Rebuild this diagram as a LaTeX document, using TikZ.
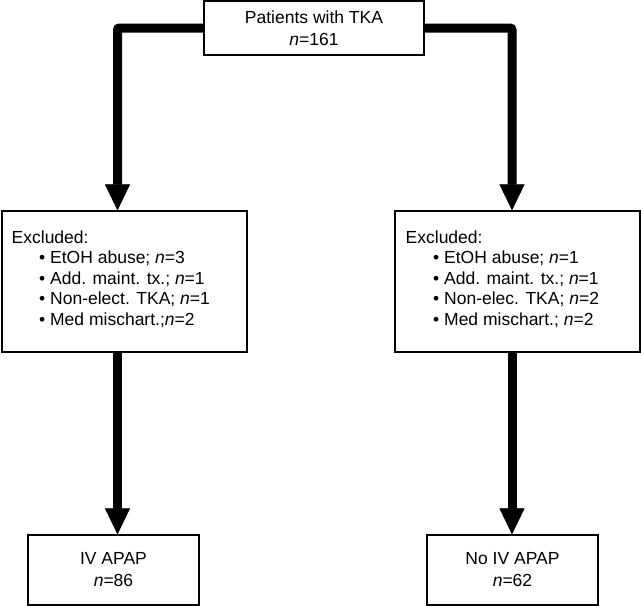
\documentclass[tikz,border=0pt]{standalone}
\usepackage{fontspec}
\setmainfont{Liberation Sans}
\usetikzlibrary{arrows.meta}
\begin{document}
\begin{tikzpicture}[x=1pt,y=-1pt,
    box/.style={draw,line width=1.2pt,inner sep=0pt,align=center,font=\fontsize{17.5}{22}\selectfont},
    list/.style={inner sep=0pt,font=\fontsize{17.5}{20.5}\selectfont},
    flow/.style={line width=9pt,rounded corners=2pt,-{Triangle[width=25pt,length=26pt,line width=0.5pt]}}]
    \useasboundingbox (0,0) rectangle (641,606);
    \coordinate (colL) at (117.5,0);
    \coordinate (colR) at (512,0);
    \node[box,minimum width=220pt,minimum height=54pt] (top) at (314,28) {Patients with TKA\\\textit{n}=161};
    \node[box,minimum width=245pt,minimum height=141pt] (exclL) at (124.5,281.5) {};
    \node[box,minimum width=245pt,minimum height=141pt] (exclR) at (517.5,281.5) {};
    \node[list,anchor=base west] (txtL) at (11.5,243) {\begin{tabular}[t]{@{}l@{}}
      Excluded:\\
      \hspace{27.5pt}\textbullet\ EtOH abuse; \textit{n}=3\\
      \hspace{27.5pt}\textbullet\ Add. maint. tx.; \textit{n}=1\\
      \hspace{27.5pt}\textbullet\ Non-elect. TKA; \textit{n}=1\\
      \hspace{27.5pt}\textbullet\ Med mischart.;\textit{n}=2
    \end{tabular}};
    \node[list,anchor=base west] (txtR) at (405.5,243) {\begin{tabular}[t]{@{}l@{}}
      Excluded:\\
      \hspace{27.5pt}\textbullet\ EtOH abuse; \textit{n}=1\\
      \hspace{27.5pt}\textbullet\ Add. maint. tx.; \textit{n}=1\\
      \hspace{27.5pt}\textbullet\ Non-elec. TKA; \textit{n}=2\\
      \hspace{27.5pt}\textbullet\ Med mischart.; \textit{n}=2
    \end{tabular}};
    \node[box,minimum width=171pt,minimum height=70pt] (ivL) at (113.5,570) {IV APAP\\\textit{n}=86};
    \node[box,minimum width=171pt,minimum height=70pt] (ivR) at (512.5,570) {No IV APAP\\\textit{n}=62};
    \draw[flow] (top.west) -| (colL |- exclL.north);
    \draw[flow] (top.east) -| (colR |- exclR.north);
    \draw[flow] (colL |- exclL.south) -- (colL |- ivL.north);
    \draw[flow] (colR |- exclR.south) -- (colR |- ivR.north);
\end{tikzpicture}
\end{document}
